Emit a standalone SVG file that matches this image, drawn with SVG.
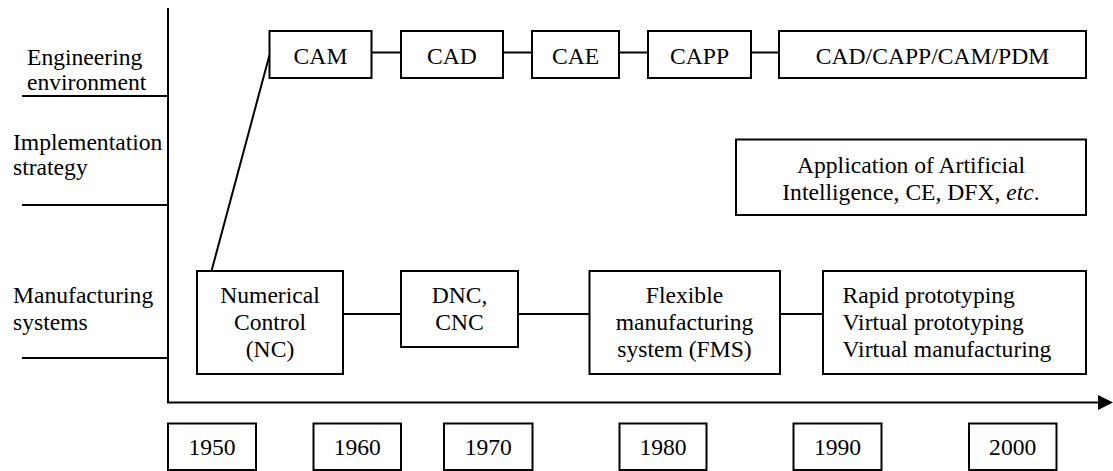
<svg xmlns="http://www.w3.org/2000/svg" width="1113" height="471" viewBox="0 0 1113 471">
  <style>
    .box { fill: #fff; stroke: #000; stroke-width: 2; }
    .ln { stroke: #000; stroke-width: 2; fill: none; }
    text { font-family: 'Liberation Serif', 'DejaVu Serif', serif; font-size: 23.6px; fill: #000; }
    .c { text-anchor: middle; }
  </style>
  <defs>
    <marker id="arrow" markerWidth="15" markerHeight="16" refX="0" refY="8" orient="auto" markerUnits="userSpaceOnUse">
      <path d="M0,0.5 L15,8 L0,15.5 Z" fill="#000"/>
    </marker>
  </defs>

  <g font-family="'Liberation Serif', 'DejaVu Serif', serif">
  <!-- axes and row dividers -->
  <g id="axes">
    <line class="ln" x1="168" y1="8" x2="168" y2="402.5"/>
    <line class="ln" x1="167" y1="402.5" x2="1098" y2="402.5" marker-end="url(#arrow)"/>
    <line class="ln" x1="22" y1="96" x2="168" y2="96"/>
    <line class="ln" x1="22" y1="205" x2="168" y2="205"/>
    <line class="ln" x1="22" y1="358" x2="168" y2="358"/>
  </g>

  <!-- row labels -->
  <g id="row-labels">
    <text x="27" y="65">Engineering</text>
    <text x="27" y="90">environment</text>
    <text x="13" y="150">Implementation</text>
    <text x="13" y="175">strategy</text>
    <text x="13" y="303">Manufacturing</text>
    <text x="13" y="330">systems</text>
  </g>

  <!-- connectors -->
  <g id="connectors">
    <line class="ln" x1="211.5" y1="271" x2="269.5" y2="55"/>
    <line class="ln" x1="372" y1="52.5" x2="401" y2="52.5"/>
    <line class="ln" x1="503" y1="52.5" x2="532" y2="52.5"/>
    <line class="ln" x1="619" y1="52.5" x2="648" y2="52.5"/>
    <line class="ln" x1="751" y1="52.5" x2="779" y2="52.5"/>
    <line class="ln" x1="343" y1="314" x2="401" y2="314"/>
    <line class="ln" x1="518" y1="314" x2="589" y2="314"/>
    <line class="ln" x1="780" y1="314" x2="823" y2="314"/>
  </g>

  <!-- engineering environment -->
  <g id="cam">
    <rect class="box" x="269.5" y="31" width="102" height="47"/>
    <text class="c" x="320.5" y="63.5">CAM</text>
  </g>
  <g id="cad">
    <rect class="box" x="401" y="31" width="102" height="47"/>
    <text class="c" x="452" y="63.5">CAD</text>
  </g>
  <g id="cae">
    <rect class="box" x="532" y="31" width="87" height="47"/>
    <text class="c" x="575.5" y="63.5">CAE</text>
  </g>
  <g id="capp">
    <rect class="box" x="648" y="31" width="103" height="47"/>
    <text class="c" x="699.5" y="63.5">CAPP</text>
  </g>
  <g id="cad-capp-cam-pdm">
    <rect class="box" x="779" y="31" width="307" height="47"/>
    <text class="c" x="932.5" y="63.5">CAD/CAPP/CAM/PDM</text>
  </g>

  <!-- implementation strategy -->
  <g id="ai">
    <rect class="box" x="736" y="139.5" width="350" height="75.5"/>
    <text class="c" x="911" y="172.5">Application of Artificial</text>
    <text class="c" x="911" y="199.5">Intelligence, CE, DFX, <tspan font-style="italic">etc</tspan>.</text>
  </g>

  <!-- manufacturing systems -->
  <g id="nc">
    <rect class="box" x="197" y="271" width="146" height="103"/>
    <text class="c" x="270" y="303">Numerical</text>
    <text class="c" x="270" y="330">Control</text>
    <text class="c" x="270" y="357">(NC)</text>
  </g>
  <g id="dnc-cnc">
    <rect class="box" x="401" y="271" width="117" height="76"/>
    <text class="c" x="459.5" y="303">DNC,</text>
    <text class="c" x="459.5" y="330">CNC</text>
  </g>
  <g id="fms">
    <rect class="box" x="589.5" y="271" width="190.5" height="103"/>
    <text class="c" x="684.5" y="303">Flexible</text>
    <text class="c" x="684.5" y="330">manufacturing</text>
    <text class="c" x="684.5" y="357">system (FMS)</text>
  </g>
  <g id="virtual">
    <rect class="box" x="823" y="271" width="263" height="103"/>
    <text x="842.5" y="303">Rapid prototyping</text>
    <text x="842.5" y="330">Virtual prototyping</text>
    <text x="842.5" y="357">Virtual manufacturing</text>
  </g>

  <!-- decades -->
  <g id="y1950">
    <rect class="box" x="168" y="423.5" width="88" height="46.5"/>
    <text class="c" x="212" y="454.5">1950</text>
  </g>
  <g id="y1960">
    <rect class="box" x="313.5" y="423.5" width="87.5" height="46.5"/>
    <text class="c" x="357.3" y="454.5">1960</text>
  </g>
  <g id="y1970">
    <rect class="box" x="444" y="423.5" width="88.5" height="46.5"/>
    <text class="c" x="488.3" y="454.5">1970</text>
  </g>
  <g id="y1980">
    <rect class="box" x="619.5" y="423.5" width="87" height="46.5"/>
    <text class="c" x="663" y="454.5">1980</text>
  </g>
  <g id="y1990">
    <rect class="box" x="793.5" y="423.5" width="88" height="46.5"/>
    <text class="c" x="837.5" y="454.5">1990</text>
  </g>
  <g id="y2000">
    <rect class="box" x="969" y="423.5" width="87.5" height="46.5"/>
    <text class="c" x="1012.7" y="454.5">2000</text>
  </g>
  </g>
</svg>
